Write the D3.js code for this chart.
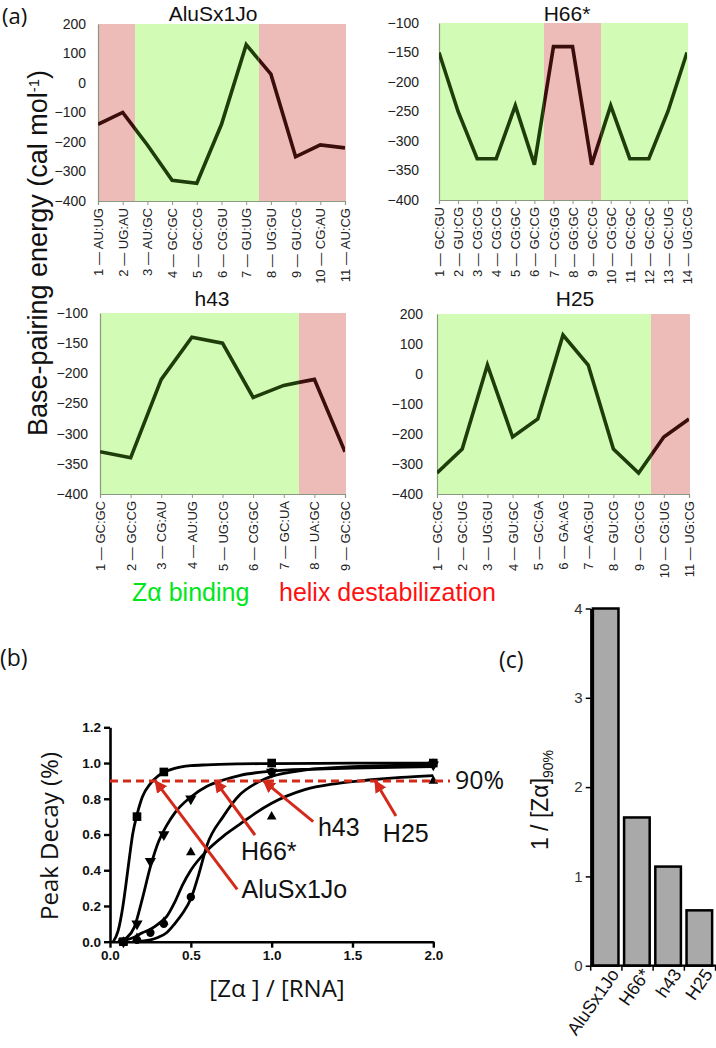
<!DOCTYPE html>
<html>
<head>
<meta charset="utf-8">
<script src="https://cdn.jsdelivr.net/npm/d3@7"></script>
<style>
  body { margin: 0; background: #fff; }
  svg { display: block; }
</style>
</head>
<body>
<div id="chart"></div>
<script>
// ---- panel (a) data: base-pairing energy per step ----
const aluCats = ["1 \u2014 AU:UG","2 \u2014 UG:AU","3 \u2014 AU:GC","4 \u2014 GC:GC","5 \u2014 GC:CG","6 \u2014 CG:GU","7 \u2014 GU:UG","8 \u2014 UG:GU","9 \u2014 GU:CG","10 \u2014 CG:AU","11 \u2014 AU:CG"];
const aluVals = [-140, -100, -210, -330, -340, -140, 130, 30, -250, -210, -220];
const aluZones = ["r","r","g","g","g","g","g","r","r","r","r"];

const h66Cats = ["1 \u2014 GC:GU","2 \u2014 GU:CG","3 \u2014 CG:CG","4 \u2014 CG:CG","5 \u2014 CG:GC","6 \u2014 GC:CG","7 \u2014 CG:GG","8 \u2014 GG:GC","9 \u2014 GC:CG","10 \u2014 CG:GC","11 \u2014 GC:GC","12 \u2014 GC:GC","13 \u2014 GC:UG","14 \u2014 UG:CG"];
const h66Vals = [-150, -250, -330, -330, -240, -340, -140, -140, -340, -240, -330, -330, -250, -150];
const h66Zones = ["g","g","g","g","g","g","r","r","r","g","g","g","g","g"];

const h43Cats = ["1 \u2014 GC:GC","2 \u2014 GC:CG","3 \u2014 CG:AU","4 \u2014 AU:UG","5 \u2014 UG:CG","6 \u2014 CG:GC","7 \u2014 GC:UA","8 \u2014 UA:GC","9 \u2014 GC:GC"];
const h43Vals = [-330, -340, -210, -140, -150, -240, -220, -210, -330];
const h43Zones = ["g","g","g","g","g","g","g","r","r"];

const h25Cats = ["1 \u2014 GC:GC","2 \u2014 GC:UG","3 \u2014 UG:GU","4 \u2014 GU:GC","5 \u2014 GC:GA","6 \u2014 GA:AG","7 \u2014 AG:GU","8 \u2014 GU:CG","9 \u2014 CG:CG","10 \u2014 CG:UG","11 \u2014 UG:CG"];
const h25Vals = [-330, -250, 30, -210, -150, 130, 30, -250, -330, -210, -150];
const h25Zones = ["g","g","g","g","g","g","g","g","g","r","r"];

// ---- panel (b) data: peak decay vs [Za]/[RNA] ----
const aluPtsX = [0.083, 0.167, 0.333, 1.0, 2.0];
const aluPtsY = [0.0, 0.70, 0.95, 1.0, 1.0];
const h66PtsX = [0.083, 0.167, 0.25, 0.333, 0.5, 1.0, 2.0];
const h66PtsY = [0.0, 0.10, 0.45, 0.60, 0.80, 0.95, 0.99];
const h43PtsX = [0.083, 0.167, 0.25, 0.333, 0.5, 1.0, 2.0];
const h43PtsY = [0.0, 0.01, 0.05, 0.10, 0.25, 0.95, 1.0];
const h25PtsX = [0.083, 0.167, 0.333, 0.5, 1.0, 2.0];
const h25PtsY = [0.0, 0.02, 0.11, 0.50, 0.70, 0.90];

// fitted curves
const aluFitX = [0.02, 0.05, 0.08, 0.1, 0.12, 0.14, 0.167, 0.2, 0.25, 0.3, 0.35, 0.4, 0.5, 0.6, 0.8, 1.0, 1.5, 2.0];
const aluFitY = [0.0, 0.06, 0.2, 0.33, 0.47, 0.6, 0.71, 0.81, 0.885, 0.93, 0.955, 0.97, 0.985, 0.99, 0.995, 0.997, 0.999, 1.0];
const h66FitX = [0.05, 0.1, 0.15, 0.2, 0.25, 0.3, 0.35, 0.4, 0.5, 0.6, 0.7, 0.8, 1.0, 1.25, 1.5, 2.0];
const h66FitY = [0.0, 0.02, 0.08, 0.24, 0.42, 0.56, 0.65, 0.72, 0.81, 0.87, 0.905, 0.93, 0.955, 0.966, 0.972, 0.98];
const h43FitX = [0.15, 0.25, 0.3, 0.35, 0.4, 0.45, 0.5, 0.55, 0.6, 0.7, 0.8, 0.9, 1.0, 1.2, 1.5, 2.0];
const h43FitY = [0.0, 0.01, 0.025, 0.05, 0.1, 0.16, 0.24, 0.38, 0.54, 0.70, 0.82, 0.885, 0.925, 0.96, 0.98, 0.99];
const h25FitX = [0.05, 0.1, 0.15, 0.2, 0.25, 0.3, 0.35, 0.4, 0.45, 0.5, 0.6, 0.7, 0.8, 0.9, 1.0, 1.2, 1.4, 1.6, 1.8, 2.0];
const h25FitY = [0.0, 0.01, 0.025, 0.05, 0.07, 0.10, 0.14, 0.22, 0.32, 0.40, 0.51, 0.59, 0.655, 0.72, 0.775, 0.85, 0.885, 0.905, 0.92, 0.93];

const threshold = 0.9;
// arrows: crossing of 90% line, tail point, label position (data units)
const arrowNames = ["AluSx1Jo", "H66*", "h43", "H25"];
const arrowTipX = [0.28, 0.65, 0.95, 1.64];
const arrowTailX = [0.787, 0.897, 1.257, 1.769];
const arrowTailY = [0.293, 0.597, 0.672, 0.704];
const labelX = [0.814, 0.81, 1.286, 1.688];
const labelY = [0.245, 0.458, 0.593, 0.56];

// ---- panel (c) data ----
const barNames = ["AluSx1Jo", "H66*", "h43", "H25"];
const barVals = [4.0, 1.66, 1.11, 0.62];

const W = 716, H = 1048;
const svg = d3.select("#chart").append("svg").attr("width", W).attr("height", H);
const defs = svg.append("defs");

const GREEN = "#d2fbb5", RED = "#edbcb8";
const LINE_G = "#1f3d0b", LINE_R = "#3a0e0c";
const sans = "'Liberation Sans', Arial, sans-serif";
const open = "'Open Sans', sans-serif";

function panelA(id, cats, vals, zones, title, box, domain, step, titlePos) {
  const x = d3.scalePoint().domain(cats).range([box.x0, box.x1]);
  const y = d3.scaleLinear().domain(domain).range([box.y1, box.y0]);
  const g = svg.append("g");

  // zone shading: one rect per category
  const bounds = cats.map((c, i) => {
    const lo = i === 0 ? box.x0 : (x(cats[i - 1]) + x(c)) / 2;
    const hi = i === cats.length - 1 ? box.x1 : (x(c) + x(cats[i + 1])) / 2;
    return { lo, hi, z: zones[i] };
  });
  g.selectAll("rect.zone").data(bounds).join("rect")
    .attr("class", "zone")
    .attr("x", d => d.lo).attr("y", box.y0)
    .attr("width", d => d.hi - d.lo + 0.5).attr("height", box.y1 - box.y0)
    .attr("fill", d => d.z === "g" ? GREEN : RED)
    .attr("shape-rendering", "crispEdges");

  ["g", "r"].forEach(z => {
    const cp = defs.append("clipPath").attr("id", id + z);
    cp.selectAll("rect").data(bounds.filter(b => b.z === z)).join("rect")
      .attr("x", d => d.lo).attr("y", box.y0 - 10)
      .attr("width", d => d.hi - d.lo).attr("height", box.y1 - box.y0 + 20);
  });

  // axes
  const ticks = d3.range(domain[0], domain[1] + 1, step);
  const ya = g.append("g").attr("transform", `translate(${box.x0},0)`)
    .call(d3.axisLeft(y).tickValues(ticks).tickSize(0).tickPadding(box.pad));
  ya.select(".domain").attr("stroke", "#8a9a80").attr("stroke-width", 1.2);
  ya.selectAll("text").attr("font-family", sans).attr("font-size", 14).attr("fill", "#222");

  const xa = g.append("g").attr("transform", `translate(0,${box.y1})`)
    .call(d3.axisBottom(x).tickSize(4).tickPadding(6));
  xa.select(".domain").attr("stroke", "#8a9a80").attr("stroke-width", 1.2);
  xa.selectAll("line").attr("stroke", "#8a9a80");
  xa.selectAll("text")
    .attr("font-family", sans).attr("font-size", 13).attr("fill", "#222")
    .attr("text-anchor", "end")
    .attr("transform", "rotate(-90)")
    .attr("x", -7).attr("y", 0).attr("dy", "0.35em");

  // line, colored by zone
  const line = d3.line().x((d, i) => x(cats[i])).y(d => y(d));
  [["g", LINE_G], ["r", LINE_R]].forEach(([z, col]) => {
    g.append("path").datum(vals)
      .attr("d", line)
      .attr("fill", "none").attr("stroke", col).attr("stroke-width", 3.6)
      .attr("stroke-linejoin", "miter")
      .attr("clip-path", `url(#${id + z})`);
  });

  g.append("text").attr("x", titlePos[0]).attr("y", titlePos[1])
    .attr("text-anchor", "middle").attr("font-family", sans).attr("font-size", 21)
    .attr("fill", "#111").text(title);
}

panelA("alu", aluCats, aluVals, aluZones, "AluSx1Jo",
  { x0: 98, x1: 345, y0: 24, y1: 201, pad: 12 }, [-400, 200], 100, [213, 21]);
panelA("h66", h66Cats, h66Vals, h66Zones, "H66*",
  { x0: 439, x1: 687, y0: 23, y1: 200, pad: 20 }, [-400, -100], 50, [567, 21]);
panelA("h43", h43Cats, h43Vals, h43Zones, "h43",
  { x0: 100, x1: 345, y0: 313, y1: 494, pad: 12 }, [-400, -100], 50, [212, 306]);
panelA("h25", h25Cats, h25Vals, h25Zones, "H25",
  { x0: 437, x1: 689, y0: 314, y1: 494, pad: 14 }, [-400, 200], 100, [575, 306]);

svg.append("text").attr("x", 2).attr("y", 24).attr("font-family", open).attr("font-size", 22)
  .attr("fill", "#111").text("(a)");

const yl = svg.append("text")
  .attr("transform", "translate(47,253) rotate(-90)")
  .attr("text-anchor", "middle").attr("font-family", sans).attr("font-size", 27).attr("fill", "#111");
yl.append("tspan").text("Base-pairing energy (cal mol");
yl.append("tspan").attr("font-size", 15).attr("baseline-shift", "55%").text("-1");
yl.append("tspan").text(")");

svg.append("text").attr("x", 132).attr("y", 601).attr("font-family", sans).attr("font-size", 25)
  .attr("fill", "#00e61a").text("Z\u03b1 binding");
svg.append("text").attr("x", 279).attr("y", 601).attr("font-family", sans).attr("font-size", 25)
  .attr("fill", "#ff1010").text("helix destabilization");

// ---------------- panel (b) ----------------
const bx = d3.scaleLinear().domain([0, 2]).range([110, 433.3]);
const by = d3.scaleLinear().domain([0, 1.2]).range([941.7, 727.3]);
const gb = svg.append("g");

const bxa = gb.append("g").attr("transform", `translate(0,${by(0)})`)
  .call(d3.axisBottom(bx).tickValues([0, 0.5, 1, 1.5, 2]).tickFormat(d3.format(".1f")).tickSize(6).tickSizeOuter(0));
const bya = gb.append("g").attr("transform", `translate(${bx(0)},0)`)
  .call(d3.axisLeft(by).tickValues(d3.range(0, 1.21, 0.2)).tickFormat(d3.format(".1f")).tickSize(6).tickSizeOuter(0));
[bxa, bya].forEach(a => {
  a.select(".domain").attr("stroke", "#000").attr("stroke-width", 2.6);
  a.selectAll("line").attr("stroke", "#000").attr("stroke-width", 2.4);
  a.selectAll("text").attr("font-family", sans).attr("font-size", 13.5).attr("font-weight", "bold").attr("fill", "#111");
});

gb.append("text").attr("transform", "translate(50,836) rotate(-90)")
  .attr("text-anchor", "middle").attr("dy", "0.35em").attr("font-family", open).attr("font-size", 24)
  .attr("fill", "#111").text("Peak Decay (%)");
gb.append("text").attr("x", 277).attr("y", 997).attr("text-anchor", "middle")
  .attr("font-family", open).attr("font-size", 24).attr("fill", "#111").text("[Z\u03b1 ] / [RNA]");
svg.append("text").attr("x", 0).attr("y", 666).attr("font-family", open).attr("font-size", 23)
  .attr("fill", "#111").text("(b)");

const fitLine = d3.line().curve(d3.curveMonotoneX).x(d => bx(d[0])).y(d => by(d[1]));
[[aluFitX, aluFitY], [h66FitX, h66FitY], [h43FitX, h43FitY], [h25FitX, h25FitY]].forEach(([fx, fy]) => {
  gb.append("path").datum(fx.map((v, i) => [v, fy[i]]))
    .attr("d", fitLine).attr("fill", "none").attr("stroke", "#000").attr("stroke-width", 2.8);
});

const sym = [d3.symbolSquare, d3.symbolTriangle, d3.symbolCircle, d3.symbolTriangle];
const symSize = [75, 55, 55, 40];
const symRot = [0, 180, 0, 0];
[[aluPtsX, aluPtsY], [h66PtsX, h66PtsY], [h43PtsX, h43PtsY], [h25PtsX, h25PtsY]].forEach(([px, py], k) => {
  gb.selectAll(null).data(px.map((v, i) => [v, py[i]])).join("path")
    .attr("d", d3.symbol().type(sym[k]).size(symSize[k]))
    .attr("transform", d => `translate(${bx(d[0])},${by(d[1])}) rotate(${symRot[k]})`)
    .attr("fill", "#000");
});

// 90% line
gb.append("line").attr("x1", bx(0)).attr("x2", 450).attr("y1", by(threshold)).attr("y2", by(threshold))
  .attr("stroke", "#d42a1c").attr("stroke-width", 3).attr("stroke-dasharray", "8,5");
gb.append("text").attr("x", 455).attr("y", 789).attr("font-family", open).attr("font-size", 25)
  .attr("fill", "#111").text("90%");

// arrows
defs.append("marker").attr("id", "arr").attr("viewBox", "0 0 10 10").attr("refX", 9).attr("refY", 5)
  .attr("markerWidth", 4.2).attr("markerHeight", 4.2).attr("orient", "auto")
  .append("path").attr("d", "M0,0 L10,5 L0,10 Z").attr("fill", "#d42a1c");
arrowNames.forEach((n, i) => {
  gb.append("line")
    .attr("x1", bx(arrowTailX[i])).attr("y1", by(arrowTailY[i]))
    .attr("x2", bx(arrowTipX[i])).attr("y2", by(threshold))
    .attr("stroke", "#d42a1c").attr("stroke-width", 3).attr("marker-end", "url(#arr)");
  gb.append("text").attr("x", bx(labelX[i])).attr("y", by(labelY[i]))
    .attr("font-family", sans).attr("font-size", 25).attr("fill", "#111").text(n);
});

// ---------------- panel (c) ----------------
const cx = d3.scaleBand().domain(barNames).range([591, 714]).paddingInner(0.18).paddingOuter(0.06);
const cy = d3.scaleLinear().domain([0, 4]).range([965.7, 608.5]);
const gc = svg.append("g");

gc.selectAll("rect").data(barNames).join("rect")
  .attr("x", d => cx(d)).attr("width", cx.bandwidth())
  .attr("y", (d, i) => cy(barVals[i])).attr("height", (d, i) => cy(0) - cy(barVals[i]))
  .attr("fill", "#a9a9a9").attr("stroke", "#000").attr("stroke-width", 2.5);

const cya = gc.append("g").attr("transform", "translate(590.7,0)")
  .call(d3.axisLeft(cy).ticks(4).tickFormat(d3.format("d")).tickSize(5).tickSizeOuter(0));
cya.select(".domain").attr("stroke", "#000").attr("stroke-width", 2.2);
cya.selectAll("line").attr("stroke", "#000").attr("stroke-width", 1.5);
cya.selectAll("text").attr("font-family", sans).attr("font-size", 15).attr("fill", "#333");

const cxa = gc.append("g").attr("transform", `translate(0,${cy(0)})`)
  .call(d3.axisBottom(cx).tickSize(0).tickPadding(6));
cxa.select(".domain").attr("stroke", "#000").attr("stroke-width", 2.2).attr("d", `M590.7,0H716`);
cxa.selectAll("text").attr("font-family", sans).attr("font-size", 18).attr("fill", "#111")
  .attr("text-anchor", "end").attr("transform", "translate(9,5) rotate(-55)").attr("dy", "0.35em").attr("y", 0);
// boundary ticks between bars
const step = cx.step();
gc.selectAll("line.bt").data(d3.range(barNames.length + 1)).join("line")
  .attr("x1", i => 590.7 + i * step).attr("x2", i => 590.7 + i * step)
  .attr("y1", cy(0)).attr("y2", cy(0) + 5).attr("stroke", "#000").attr("stroke-width", 1.5);

const cl = gc.append("text").attr("transform", "translate(548,800) rotate(-90)")
  .attr("text-anchor", "middle").attr("font-family", sans).attr("font-size", 23).attr("fill", "#111");
cl.append("tspan").text("1 / [Z\u03b1]");
cl.append("tspan").attr("font-size", 14).attr("baseline-shift", "-35%").text("90%");
svg.append("text").attr("x", 499).attr("y", 668).attr("font-family", open).attr("font-size", 23)
  .attr("fill", "#111").text("(c)");
</script>
</body>
</html>
